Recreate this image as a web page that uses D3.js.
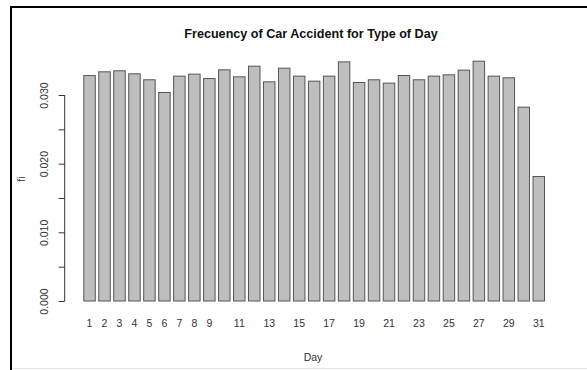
<!DOCTYPE html>
<html>
<head>
<meta charset="utf-8">
<script src="https://cdn.jsdelivr.net/npm/d3@7"></script>
<style>
  html, body { margin: 0; padding: 0; background: #fff; }
  svg { display: block; }
  text { font-family: "Liberation Sans", Arial, sans-serif; }
</style>
</head>
<body>
<svg id="chart" width="587" height="370"></svg>
<script>
const days = [1,2,3,4,5,6,7,8,9,10,11,12,13,14,15,16,17,18,19,20,21,22,23,24,25,26,27,28,29,30,31];
const fi = [0.0329,0.03345,0.0336,0.03316,0.03229,0.03044,0.03282,0.03311,0.03247,0.03374,
            0.03272,0.03427,0.03199,0.03398,0.03282,0.03209,0.03282,0.0349,0.03189,0.03229,
            0.0318,0.03291,0.03229,0.03282,0.03301,0.03369,0.035,0.03282,0.03258,0.0283,0.0182];
const shownDayLabels = [1,2,3,4,5,6,7,8,9,11,13,15,17,19,21,23,25,27,29,31];
const yTicks = [0, 0.005, 0.01, 0.015, 0.02, 0.025, 0.03];
const yLabelTicks = [0, 0.01, 0.02, 0.03];
const titleText = "Frecuency of Car Accident for Type of Day";
const xTitle = "Day";
const yTitle = "fi";

const svg = d3.select("#chart");

// frame
svg.append("line").attr("x1", 11).attr("x2", 587).attr("y1", 7).attr("y2", 7)
  .attr("stroke", "#000").attr("stroke-width", 2);
svg.append("line").attr("x1", 11).attr("x2", 11).attr("y1", 6).attr("y2", 370)
  .attr("stroke", "#000").attr("stroke-width", 2);
svg.append("line").attr("x1", 12).attr("x2", 587).attr("y1", 368.5).attr("y2", 368.5)
  .attr("stroke", "#e4e4e4").attr("stroke-width", 1);

const x = d3.scaleBand().domain(days).range([83.3, 545]).paddingInner(1/6).paddingOuter(0);
const y = d3.scaleLinear().domain([0, 0.03]).range([301, 95]);

// bars
svg.append("g").selectAll("rect").data(days).join("rect")
  .attr("x", d => x(d) + 0.5)
  .attr("y", (d, i) => y(fi[i]) + 0.5)
  .attr("width", x.bandwidth() - 1)
  .attr("height", (d, i) => y(0) - y(fi[i]) - 0.5)
  .attr("fill", "#bebebe")
  .attr("stroke", "#555")
  .attr("stroke-width", 1);

// y axis
const yAxis = d3.axisLeft(y).tickValues(yTicks).tickSize(6)
  .tickFormat(d => yLabelTicks.some(v => Math.abs(v - d) < 1e-9) ? d3.format(".3f")(d) : "");
const gy = svg.append("g").attr("transform", "translate(64.7,0)").call(yAxis);
gy.select(".domain").attr("stroke", "#333").attr("d", `M-0,${y(0)}V${y(0.03)}`);
gy.selectAll(".tick line").attr("stroke", "#333");
gy.selectAll(".tick text")
  .attr("x", null).attr("dy", null)
  .attr("text-anchor", "middle")
  .attr("transform", "translate(-16.5,0) rotate(-90)")
  .attr("font-size", "10.5px")
  .attr("fill", "#333");

// x labels (no axis line, like R barplot)
const xAxis = d3.axisBottom(x).tickValues(shownDayLabels).tickSize(0).tickPadding(0);
const gx = svg.append("g").attr("transform", "translate(0,327)").call(xAxis);
gx.select(".domain").remove();
gx.selectAll(".tick text").attr("dy", null).attr("y", 0)
  .attr("font-size", "10.5px").attr("fill", "#333");

// titles
svg.append("text").attr("x", 311).attr("y", 38).attr("text-anchor", "middle")
  .attr("font-weight", "bold").attr("font-size", "12.6px").attr("fill", "#111").text(titleText);
svg.append("text").attr("x", 313).attr("y", 361).attr("text-anchor", "middle")
  .attr("font-size", "10.5px").attr("fill", "#333").text(xTitle);
svg.append("text").attr("transform", "translate(25,179) rotate(-90)").attr("text-anchor", "middle")
  .attr("font-size", "10.5px").attr("fill", "#333").text(yTitle);
</script>
</body>
</html>
